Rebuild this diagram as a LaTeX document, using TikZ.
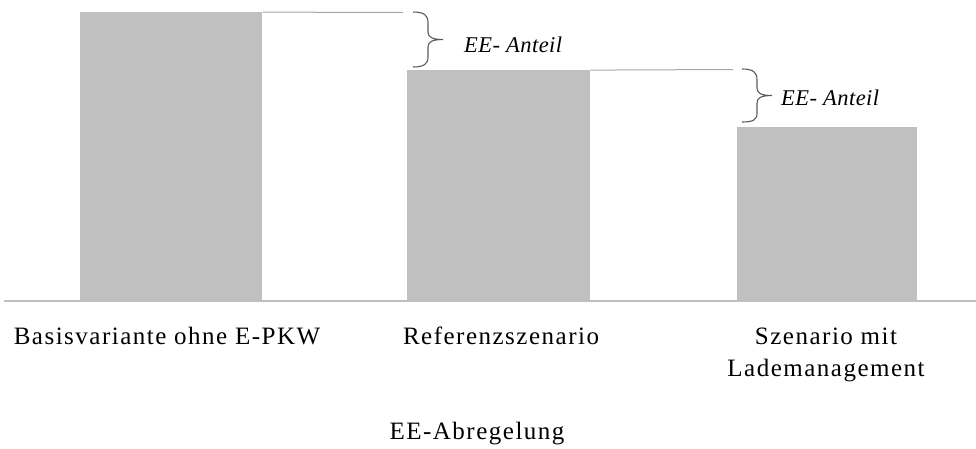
\documentclass[tikz,border=0pt]{standalone}
\usepackage{fontspec}
\setmainfont{Liberation Serif}[LetterSpace=6]
\newfontfamily\mathlike{Liberation Serif}[LetterSpace=2]
\begin{document}
\begin{tikzpicture}[x=1pt,y=-1pt,
  bar/.style={fill=barfill,draw=none,inner sep=0pt,anchor=south west},
  guide/.style={draw=guidegray,line width=1pt},
  axis/.style={draw=axisgray,line width=2pt},
  bracepath/.style={draw=bracegray,line width=1.1pt},
  catlabel/.style={font=\fontsize{25}{32}\selectfont,anchor=base,align=center,inner sep=0pt},
  sharelabel/.style={font=\fontsize{22.5}{26}\selectfont\mathlike\itshape,anchor=base west,inner sep=0pt}]
\definecolor{barfill}{HTML}{C0C0C0}
\definecolor{guidegray}{HTML}{A6A6A6}
\definecolor{axisgray}{HTML}{BFBFBF}
\definecolor{bracegray}{HTML}{5A5A5A}
\useasboundingbox (0,0) rectangle (976,448);

% bars
\node[bar,minimum width=182pt,minimum height=288pt] (b1) at (80,300) {};
\node[bar,minimum width=183pt,minimum height=230pt] (b2) at (407,300) {};
\node[bar,minimum width=180pt,minimum height=173pt] (b3) at (737,300) {};

% baseline
\coordinate (axL) at (4,301);
\coordinate (axR) at (976,301);
\draw[axis] (axL) -- (axR);

% guide lines from the bar tops
\coordinate (g1) at (403,12.5);
\coordinate (g2) at (733,69.5);
\draw[guide] ([yshift=-0.5pt]b1.north east) -- (g1);
\draw[guide] ([yshift=-0.5pt]b2.north east) -- (g2);

% curly braces
\draw[bracepath] (413,12) .. controls (424,12) and (428,15) .. (428,23)
  -- (428,32) .. controls (428,37) and (432,39.5) .. (443,39.5)
  .. controls (432,39.5) and (428,42) .. (428,47)
  -- (428,57) .. controls (428,64) and (424,67) .. (413,67);
\draw[bracepath] (742,69) .. controls (753,69) and (757,72) .. (757,80)
  -- (757,88) .. controls (757,93) and (761,95.5) .. (772,95.5)
  .. controls (761,95.5) and (757,98) .. (757,103)
  -- (757,113) .. controls (757,120) and (753,122) .. (742,122);

\node[sharelabel] (s1) at (464,52) {EE- Anteil};
\node[sharelabel] (s2) at (781,105) {EE- Anteil};

% category labels
\node[catlabel] (l1) at (167,344) {Basisvariante ohne E-PKW};
\node[catlabel] (l2) at (501,344) {Referenzszenario};
\node[catlabel] (l3) at (826,376) {Szenario mit\\Lademanagement};
\node[catlabel] (ax) at (477,439) {EE-Abregelung};
\end{tikzpicture}
\end{document}
